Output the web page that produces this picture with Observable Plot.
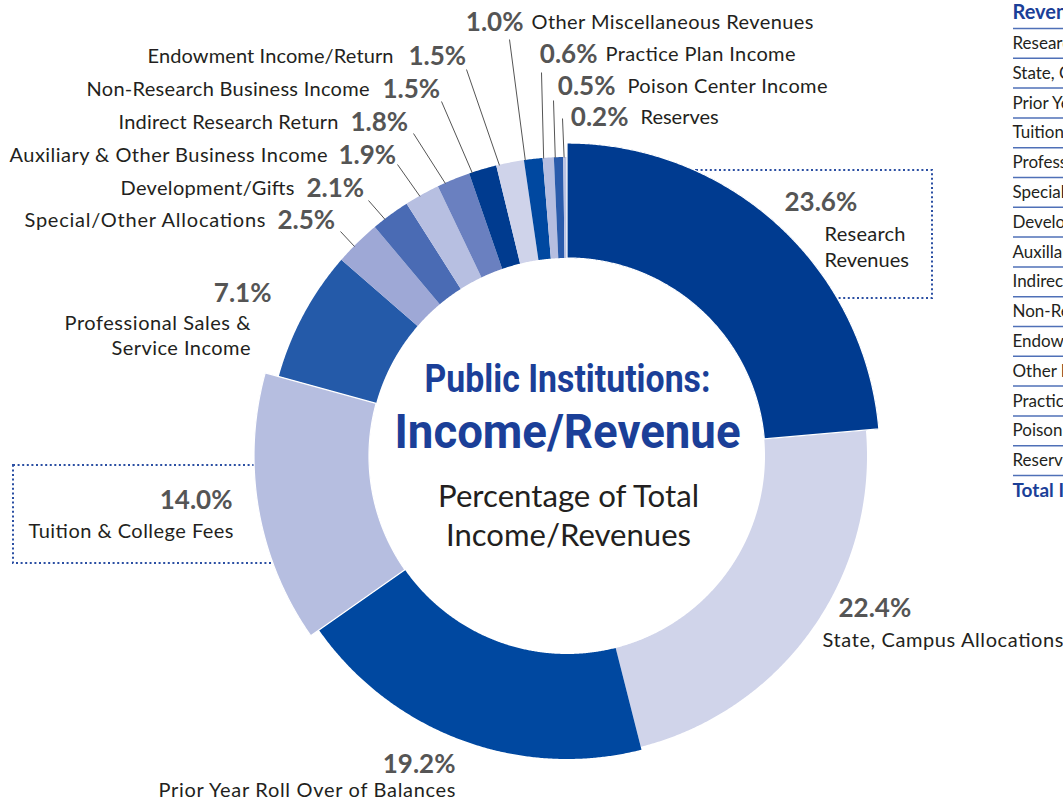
<!DOCTYPE html>
<html><head><meta charset="utf-8">
<script src="https://cdn.jsdelivr.net/npm/d3@7"></script>
<script src="https://cdn.jsdelivr.net/npm/@observablehq/plot@0.6"></script>
<style>html,body{margin:0;padding:0;overflow:hidden;background:#fff}</style>
</head><body><div id="chart"></div>
<script>
// ---------- DATA ----------
const categories = ["Research Revenues","State, Campus Allocations","Prior Year Roll Over of Balances","Tuition & College Fees","Professional Sales & Service Income","Special/Other Allocations","Development/Gifts","Auxiliary & Other Business Income","Indirect Research Return","Non-Research Business Income","Endowment Income/Return","Other Miscellaneous Revenues","Practice Plan Income","Poison Center Income","Reserves"];
const values = [23.6,22.4,19.2,14.0,7.1,2.5,2.1,1.9,1.8,1.5,1.5,1.0,0.6,0.5,0.2];
const tableHeader = "Revenue Source";
const tableRows = ["Research Revenues","State, Campus Allocations","Prior Year Roll Over of Balances","Tuition & College Fees","Professional Sales & Service Income","Special/Other Allocations","Development/Gifts","Auxillary & Other Business Income","Indirect Research Return","Non-Research Business Income","Endowment Income/Return","Other Miscellaneous Revenues","Practice Plan Income","Poison Center Income","Reserves"];
const tableTotal = "Total Income/Revenues";
const titleLines = ["Public Institutions:","Income/Revenue"];
const subtitleLines = ["Percentage of Total","Income/Revenues"];

// ---------- STYLE / LAYOUT ----------
const colors = ["#003b90","#d0d4ea","#0048a0","#b6bee0","#245aa9","#9ea8d6","#4a6bb4","#b7bfe1","#6a80c0","#003b8f","#cfd3ea","#0048a0","#b6bee0","#2a5bab","#bcc3e3"];
const CX = 567, CY = 456, R_IN = 198;
const outerR = [313,300,303,313,299,299,299,299,299,299,299,299,299,299,299];
// label layout: pct pos/anchor, name pos/anchor, words on first line, leader start + where on slice it ends (fraction)
const layout = [
  {px:784,py:202,pa:"start",nx:824,ny:234,na:"start",split:1,lh:26},
  {px:838,py:608,pa:"start",nx:822,ny:640,na:"start"},
  {px:455,py:764,pa:"end",nx:455,ny:790,na:"end"},
  {px:232,py:500,pa:"end",nx:233,ny:531,na:"end"},
  {px:271,py:293,pa:"end",nx:250,ny:323,na:"end",split:3,lh:25},
  {px:277,py:220,pa:"start",nx:265,ny:220,na:"end",lx:340,ly:231,f:0.4},
  {px:306,py:188,pa:"start",nx:294,ny:188,na:"end",lx:368,ly:200,f:0.32},
  {px:338,py:155,pa:"start",nx:327,ny:155,na:"end",lx:397,ly:164,f:0.42},
  {px:350,py:122,pa:"start",nx:338,ny:122,na:"end",lx:413,ly:133,f:0.23},
  {px:382,py:89,pa:"start",nx:369,ny:89,na:"end",lx:441,ly:101,f:0.1},
  {px:408,py:56,pa:"start",nx:393,ny:56,na:"end",lx:466,ly:69,f:0.1},
  {px:523,py:22,pa:"end",nx:531,ny:22,na:"start",lx:509,ly:39,f:0.05},
  {px:597,py:54,pa:"end",nx:605,ny:54,na:"start",lx:541,ly:72,f:0.05},
  {px:615,py:86,pa:"end",nx:627,ny:86,na:"start",lx:553,ly:100,f:0.1},
  {px:628,py:117,pa:"end",nx:640,ny:117,na:"start",lx:562,ly:118,f:0.1}
];
// target widths of the chart texts in the reference
const labelWidths = {"Research":81,"Revenues":84,"State, Campus Allocations":241,"Prior Year Roll Over of Balances":297,"Tuition & College Fees":205,"Professional Sales &":186,"Service Income":139,"Special/Other Allocations":241,"Development/Gifts":174,"Auxiliary & Other Business Income":318,"Indirect Research Return":220,"Non-Research Business Income":283,"Endowment Income/Return":246,"Other Miscellaneous Revenues":282,"Practice Plan Income":190,"Poison Center Income":200,"Reserves":79,
  "Public Institutions:":286,"Income/Revenue":346,"Percentage of Total":261,"Income/Revenues":245};
const PCT_COLOR = "#555555", TXT_COLOR = "#231f20", BLUE = "#1b3f98";
const FONT = "Lato, 'Open Sans', sans-serif";

// ---------- GEOMETRY from data ----------
const pie = d3.pie().sort(null).value(d => d)(values);
const arcRows = [];
pie.forEach((p, i) => {
  const n = Math.max(2, Math.ceil((p.endAngle - p.startAngle) / 0.005));
  for (let k = 0; k <= n; k++) {
    const a = p.startAngle + (p.endAngle - p.startAngle) * k / n;
    arcRows.push({i, fill: colors[i],
      x1: CX + R_IN * Math.sin(a), y1: CY - R_IN * Math.cos(a),
      x2: CX + outerR[i] * Math.sin(a), y2: CY - outerR[i] * Math.cos(a)});
  }
});
const fmt = v => d3.format(".1f")(v) + "%";
const labels = categories.map((c, i) => ({i, name: c, v: values[i], ...layout[i]}));
const nameLines = [];
labels.forEach(d => {
  const words = d.name.split(" ");
  const lines = d.split ? [words.slice(0, d.split).join(" "), words.slice(d.split).join(" ")] : [d.name];
  lines.forEach((t, k) => nameLines.push({t, x: d.nx, y: d.ny + k * (d.lh || 0), a: d.na}));
});
const leaders = labels.filter(d => d.lx != null).map(d => {
  const p = pie[d.i], a = p.startAngle + (p.endAngle - p.startAngle) * d.f, r = outerR[d.i];
  return {x1: d.lx, y1: d.ly, x2: CX + r * Math.sin(a), y2: CY - r * Math.cos(a)};
});
const TX = 1012, ROW0 = 43, ROWH = 29.8;
const tableText = tableRows.map((t, k) => ({t, y: ROW0 + k * ROWH}));
const tableLines = d3.range(tableRows.length + 1).map(k => ({y: ROW0 - 15 + k * ROWH}));

const boxes = [
  {x1: 696, x2: 932, y1: 170, y2: 298},
  {x1: 13, x2: 300, y1: 465, y2: 563}
];

const plot = Plot.plot({
  width: 1063, height: 802, margin: 0,
  x: {domain: [0, 1063], range: [0, 1063], axis: null},
  y: {domain: [0, 802], range: [0, 802], axis: null},
  color: {type: "identity"},
  style: {fontFamily: FONT, background: "#fff"},
  marks: [
    Plot.rect(boxes, {x1: "x1", x2: "x2", y1: "y1", y2: "y2", fill: "none", stroke: "#2b4fa3", strokeWidth: 2, strokeDasharray: "2 2.6"}),
    Plot.area(arcRows, {x1: "x1", y1: "y1", x2: "x2", y2: "y2", z: "i", fill: "fill", curve: "linear"}),
    Plot.area(arcRows.filter(d => d.i === 0 || d.i === 3), {x1: "x1", y1: "y1", x2: "x2", y2: "y2", z: "i", fill: "fill", stroke: "white", strokeWidth: 1.2, curve: "linear"}),
    Plot.link(leaders, {x1: "x1", y1: "y1", x2: "x2", y2: "y2", stroke: "#555", strokeWidth: 1}),
    Plot.text(labels.filter(d => d.pa === "start"), {x: "px", y: "py", text: d => fmt(d.v), textAnchor: "start", fontSize: 26, fontWeight: "bold", fill: PCT_COLOR}),
    Plot.text(labels.filter(d => d.pa === "end"), {x: "px", y: "py", text: d => fmt(d.v), textAnchor: "end", fontSize: 26, fontWeight: "bold", fill: PCT_COLOR}),
    Plot.text(nameLines.filter(d => d.a === "start"), {x: "x", y: "y", text: "t", textAnchor: "start", fontSize: 20, fill: TXT_COLOR}),
    Plot.text(nameLines.filter(d => d.a === "end"), {x: "x", y: "y", text: "t", textAnchor: "end", fontSize: 20, fill: TXT_COLOR}),
    // center title
    Plot.text([titleLines[0]], {x: () => CX, y: () => 379, text: d => d, fontSize: 38, fontWeight: "bold", fill: BLUE, fontFamily: "Roboto"}),
    Plot.text([titleLines[1]], {x: () => CX, y: () => 432, text: d => d, fontSize: 49, fontWeight: "bold", fill: BLUE, fontFamily: "Roboto"}),
    Plot.text(subtitleLines.map((t, k) => ({t, y: 497 + k * 39})), {x: () => CX + 1, y: "y", text: "t", fontSize: 30, fill: TXT_COLOR}),
    // table
    Plot.ruleY(tableLines, {y: "y", x1: () => 1013, x2: () => 1080, stroke: "#4f70b7", strokeWidth: 1.5}),
    Plot.text([tableHeader], {x: () => TX, y: () => 12, text: d => d, textAnchor: "start", fontSize: 20, fontWeight: "bold", fill: BLUE}),
    Plot.text(tableText, {x: () => TX, y: "y", text: "t", textAnchor: "start", fontSize: 17, fill: TXT_COLOR}),
    Plot.text([tableTotal], {x: () => TX, y: () => ROW0 + tableRows.length * ROWH, text: d => d, textAnchor: "start", fontSize: 19, fontWeight: "bold", fill: BLUE})
  ]
});
document.getElementById("chart").appendChild(plot);
// fit chart text widths to the reference (not the table on the right)
const center = new Set(["Public Institutions:","Income/Revenue","Percentage of Total","Income/Revenues"]);
plot.querySelectorAll("text").forEach(t => {
  const s = t.textContent, w = labelWidths[s];
  if (!w) return;
  if (t.getBoundingClientRect().left > 990) return;
  if (Math.abs(t.getComputedTextLength() - w) > 1.5) {
    t.setAttribute("textLength", w);
    t.setAttribute("lengthAdjust", center.has(s) ? "spacingAndGlyphs" : "spacing");
  }
});
</script></body></html>
